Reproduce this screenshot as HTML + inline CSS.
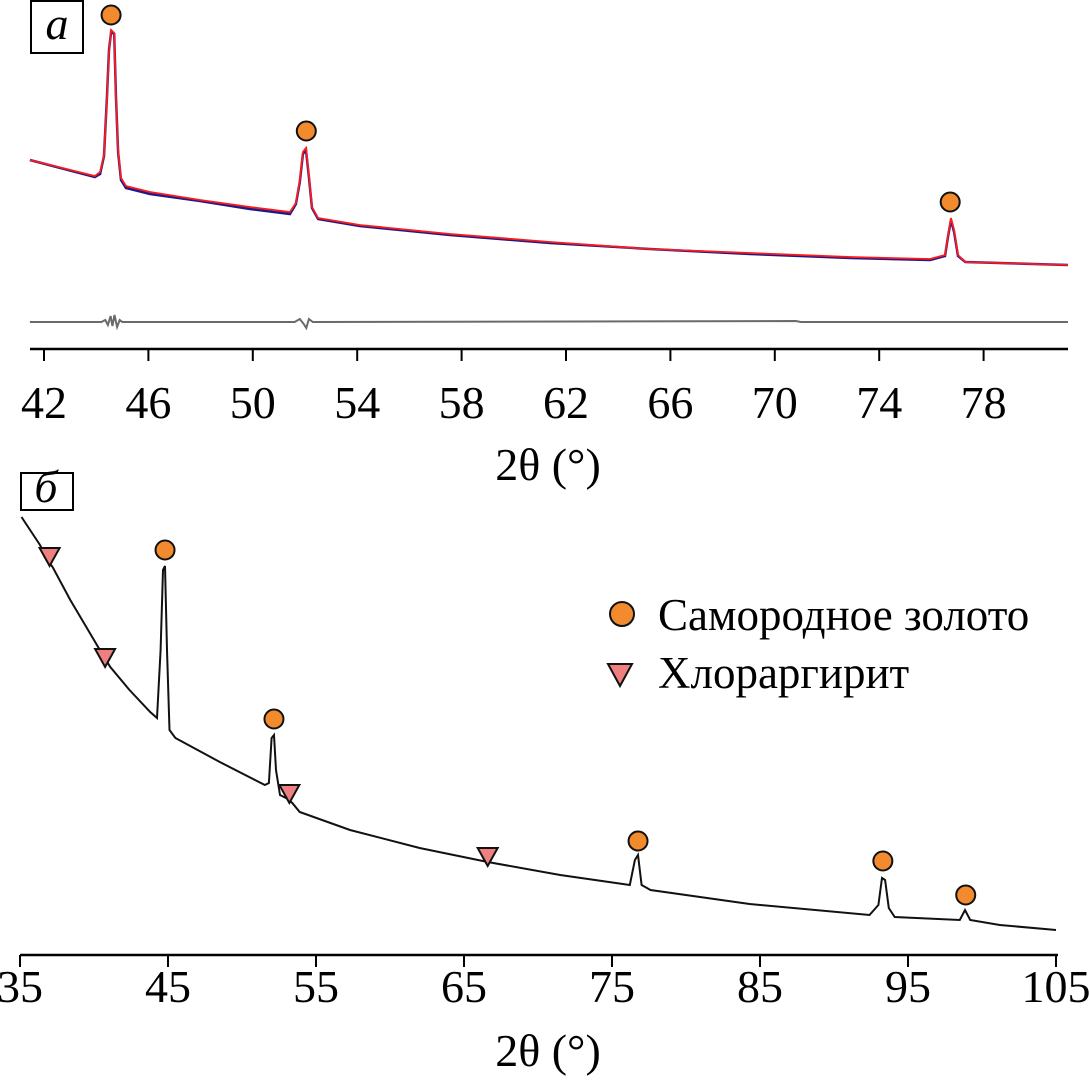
<!DOCTYPE html>
<html><head><meta charset="utf-8"><style>
html,body{margin:0;padding:0;background:#fff}
svg{display:block}
text{font-family:"Liberation Serif","DejaVu Serif",serif;fill:#000}
</style></head><body>
<svg id="chart" width="1090" height="1082" viewBox="0 0 1090 1082" xmlns="http://www.w3.org/2000/svg">
<g id="gtop"></g>
<g id="gbot"></g>
</svg>
<script>
// Panel a data
const topTheta = [41.46,43.95,44.15,44.3,44.41,44.49,44.57,44.69,44.76,44.84,44.95,45.14,46.06,47.98,49.89,51.42,51.65,51.8,51.92,52.04,52.15,52.27,52.5,54.1,57.56,61.39,65.2,69.05,72.9,75.95,76.52,76.64,76.75,76.87,77.02,77.3,81.23];
const topCalc = [180,164,168,185,240,288,310,307,240,190,162,154,148,140,133,128,137,160,188,192,165,133,122,115,106,98,91,87,83,81,85,105,122,110,85,78,75];
const topObs = [180,163,166,184,242,290,308,306,242,188,160,152,146,139,131,126,136,158,186,190,163,132,121,114,105,97,91,86,82,80,84,104,120,108,84,78,75];
const resTheta = [41.46,44.2,44.35,44.45,44.55,44.62,44.7,44.8,44.9,45.0,51.6,51.8,51.95,52.05,52.15,52.3,70.8,71.0,81.23];
const resVals = [0,0,2,-3,6,-4,7,-5,2,0,0,3,-2,-6,3,0,1,0,0];
const topTicks = [42,46,50,54,58,62,66,70,74,78];
const topPeaks = [44.57,52.05,76.72];
const topPeakI = [325,209,138];
// Panel b data
const botTheta = [35.1,36.35,37.0,37.2,38.4,40.4,41.1,42.4,43.8,44.26,44.5,44.66,44.8,44.93,45.1,45.5,48.5,51.55,51.82,52.0,52.16,52.3,52.57,53.1,53.4,53.9,57.3,62.0,66.6,71.5,76.2,76.55,76.76,77.0,77.6,84.3,92.4,93.0,93.24,93.45,93.7,94.1,98.5,98.85,99.2,101.2,105];
const botVals = [438,410,392,388,355,305,288,265,243,237,305,385,389,305,225,217,193,170,172,217,220,185,160,156,152,143,125,107,93,80,70,95,100,70,65,51,40,50,77,75,47,38,35,45,35,30,25];
const botTicks = [35,45,55,65,75,85,95,105];
const goldPeaks = [44.8,52.16,76.76,93.3,98.9];
const goldI = [405,236,114,94,60];
const agclPeaks = [37.0,40.75,53.2,66.6];
const agclI = [398,297,161,98];

const NS="http://www.w3.org/2000/svg";
function mk(parent,tag,attrs){const e=document.createElementNS(NS,tag);for(const k in attrs)e.setAttribute(k,attrs[k]);parent.appendChild(e);return e;}
const gTop=document.getElementById('gtop'), gBot=document.getElementById('gbot');

const xT = t => 44 + (t-42)*26.1;
const yT = i => 340 - i;
const yR = r => 322 - r;
const xB = t => 20 + (t-35)*14.8;
const yB = i => 955 - i;

function pathOf(xs,ys,fx,fy){return xs.map((t,i)=>(i?'L':'M')+fx(t).toFixed(1)+' '+fy(ys[i]).toFixed(1)).join(' ');}

let p;
p=mk(gTop,'path',{d:pathOf(resTheta,resVals,xT,yR),fill:'none',stroke:'#6a6a6a','stroke-width':2});


p=mk(gTop,'path',{d:pathOf(topTheta,topObs,xT,yT),fill:'none',stroke:'#1a1a8c','stroke-width':2.5});


p=mk(gTop,'path',{d:pathOf(topTheta,topCalc,xT,yT),fill:'none',stroke:'#ff1a1a','stroke-width':1.8});


topPeaks.forEach((t,i)=>{const c=mk(gTop,'circle',{cx:xT(t),cy:yT(topPeakI[i]),r:9.5,fill:'#f28a2e',stroke:'#111','stroke-width':2});

});
p=mk(gTop,'line',{x1:30,x2:1068,y1:349,y2:349,stroke:'#000','stroke-width':2.5});


topTicks.forEach(t=>{const l=mk(gTop,'line',{x1:xT(t),x2:xT(t),y1:349,y2:361,stroke:'#000','stroke-width':2});


const tx=mk(gTop,'text',{x:xT(t),y:418,'font-size':46,'text-anchor':'middle'});tx.textContent=t;

});
p=mk(gTop,'text',{x:548,y:480,'font-size':46,'text-anchor':'middle'});p.textContent='2θ (°)';


p=mk(gTop,'rect',{x:31,y:1,width:52,height:52,fill:'#fff',stroke:'#000','stroke-width':2});


p=mk(gTop,'text',{x:57,y:39,'font-size':46,'font-style':'italic','text-anchor':'middle'});p.textContent='a';



p=mk(gBot,'path',{d:pathOf(botTheta,botVals,xB,yB),fill:'none',stroke:'#111','stroke-width':2});


goldPeaks.forEach((t,i)=>{const c=mk(gBot,'circle',{cx:xB(t),cy:yB(goldI[i]),r:9.5,fill:'#f28a2e',stroke:'#111','stroke-width':2});

});
agclPeaks.forEach((t,i)=>{const x=xB(t),y=yB(agclI[i]);
const g=mk(gBot,'polygon',{points:`${x-10},${y-9} ${x+10},${y-9} ${x},${y+9}`,fill:'#f08080',stroke:'#111','stroke-width':2});

});
p=mk(gBot,'line',{x1:20,x2:1058,y1:955,y2:955,stroke:'#000','stroke-width':2.5});


botTicks.forEach(t=>{const l=mk(gBot,'line',{x1:xB(t),x2:xB(t),y1:955,y2:967,stroke:'#000','stroke-width':2});


const tx=mk(gBot,'text',{x:xB(t),y:1002,'font-size':46,'text-anchor':'middle'});tx.textContent=t;

});
p=mk(gBot,'text',{x:548,y:1066,'font-size':46,'text-anchor':'middle'});p.textContent='2θ (°)';


p=mk(gBot,'rect',{x:21,y:473,width:52,height:37,fill:'#fff',stroke:'#000','stroke-width':2});


p=mk(gBot,'text',{x:46,y:502,'font-size':46,'font-style':'italic','text-anchor':'middle'});p.textContent='б';


p=mk(gBot,'circle',{cx:622,cy:614,r:12,fill:'#f28a2e',stroke:'#111','stroke-width':2});


p=mk(gBot,'text',{x:658,y:630,'font-size':45});p.textContent='Самородное золото';


p=mk(gBot,'polygon',{points:'608,664 632,664 620,686',fill:'#f08080',stroke:'#111','stroke-width':2});


p=mk(gBot,'text',{x:658,y:688,'font-size':45});p.textContent='Хлораргирит';


</script>
</body></html>
